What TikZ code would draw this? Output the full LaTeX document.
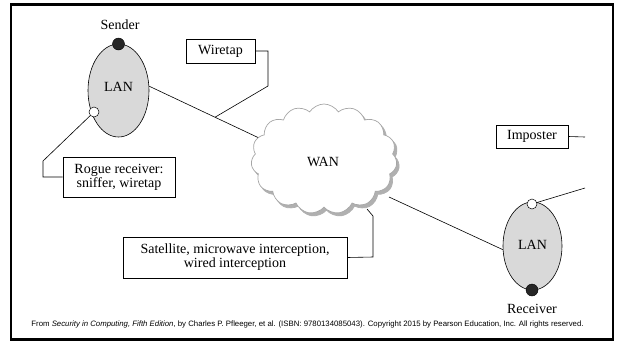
\documentclass[tikz,border=0pt]{standalone}
\usepackage{fontspec}
\setmainfont{Liberation Serif}
\newfontfamily\footfont{Liberation Sans}
\usetikzlibrary{shapes.geometric,shapes.symbols,calc}
\definecolor{langray}{HTML}{D9D9D9}
\definecolor{cloudline}{HTML}{A6A6A6}
\definecolor{cloudshadow}{HTML}{B0B0B0}
\tikzset{
  lan/.style={ellipse,draw=black,line width=0.6pt,fill=langray,inner sep=0pt,font=\fontsize{14}{16}\selectfont},
  lbl/.style={draw=black,line width=0.6pt,fill=white,inner sep=0pt,align=center,font=\fontsize{14}{16}\selectfont},
  txt/.style={inner sep=0pt,font=\fontsize{14}{16}\selectfont},
  bdot/.style={circle,fill=black!85,draw=black,inner sep=0pt,minimum size=12pt},
  wdot/.style={circle,fill=white,draw=black,line width=0.5pt,inner sep=0pt,minimum size=10pt},
  wire/.style={line width=0.6pt,black},
  cloudshape/.style={cloud,cloud puffs=15,cloud puff arc=115,aspect=1.3,
      minimum width=146pt,minimum height=110pt,inner sep=0pt},
}
\begin{document}
\begin{tikzpicture}[x=1pt,y=-1pt]
\useasboundingbox (0,0) rectangle (619,341);
\draw[line width=2.2pt] (11,4.5) rectangle (613,339.5);

% cloud with shadow
\node[cloudshape,fill=cloudshadow,draw=cloudshadow,line width=0.7pt] (wanshadow) at (326.5,162) {};
\node[cloudshape,draw=cloudline,line width=0.7pt,fill=white] (wan) at (324,159) {};
\node[txt] (wantxt) at (323,162) {WAN};

% sender LAN
\node[lan,minimum width=61pt,minimum height=93pt] (lan1) at (118.5,90.5) {};
\node[txt] (lan1txt) at (118.5,87) {LAN};
\node[bdot] (sdot) at (118.5,44) {};
\node[wdot] (rdot) at (94,112) {};
\node[txt] (sender) at (120,25) {Sender};

% receiver LAN
\node[lan,minimum width=59pt,minimum height=88pt] (lan2) at (532.5,246) {};
\node[txt] (lan2txt) at (532.5,245) {LAN};
\node[wdot] (idot) at (532,204) {};
\node[bdot] (rvdot) at (532,290) {};
\node[txt] (receiver) at (532,309) {Receiver};

% labels
\node[lbl,minimum width=69pt,minimum height=24pt] (wiretap) at (220.5,51) {Wiretap};
\node[lbl,minimum width=112pt,minimum height=40pt] (rogue) at (119,177) {Rogue receiver:\\[-2pt]sniffer, wiretap};
\node[lbl,minimum width=224pt,minimum height=41pt] (sat) at (235,257.5) {Satellite, microwave interception,\\[-2pt]wired interception};
\node[lbl,minimum width=72pt,minimum height=23pt] (imp) at (532,136.5) {Imposter};

% coordinates
\coordinate (w1) at (258,137.5);
\coordinate (w2) at (389,197);
\coordinate (tap) at ($(lan1.8)!0.605!(w1)$);
\coordinate (impend) at (585,137);
\coordinate (linkend) at (585,188);
\coordinate (satc) at (367,209);

% connectors
\draw[wire] (lan1.8) -- (w1);
\draw[wire] (wiretap.east) -- (268,51) -- (268,86) -- (tap);
\draw[wire] (rdot) -- (43,161) -- (43,177) -- (rogue.west);
\draw[wire] (sat.east) -- (373,257) -- (373,216) -- (satc);
\draw[wire] (w2) -- (lan2.187);
\draw[wire] (imp.east) -- (impend);
\draw[wire] (idot) -- (linkend);

% footer
\node[inner sep=0pt,font=\footfont\fontsize{7.8}{9}\selectfont] (foot) at (307.5,324.5)
 {From \textit{Security in Computing, Fifth Edition}, by Charles P. Pfleeger, et al. (ISBN: 9780134085043). Copyright 2015 by Pearson Education, Inc. All rights reserved.};
\end{tikzpicture}
\end{document}
